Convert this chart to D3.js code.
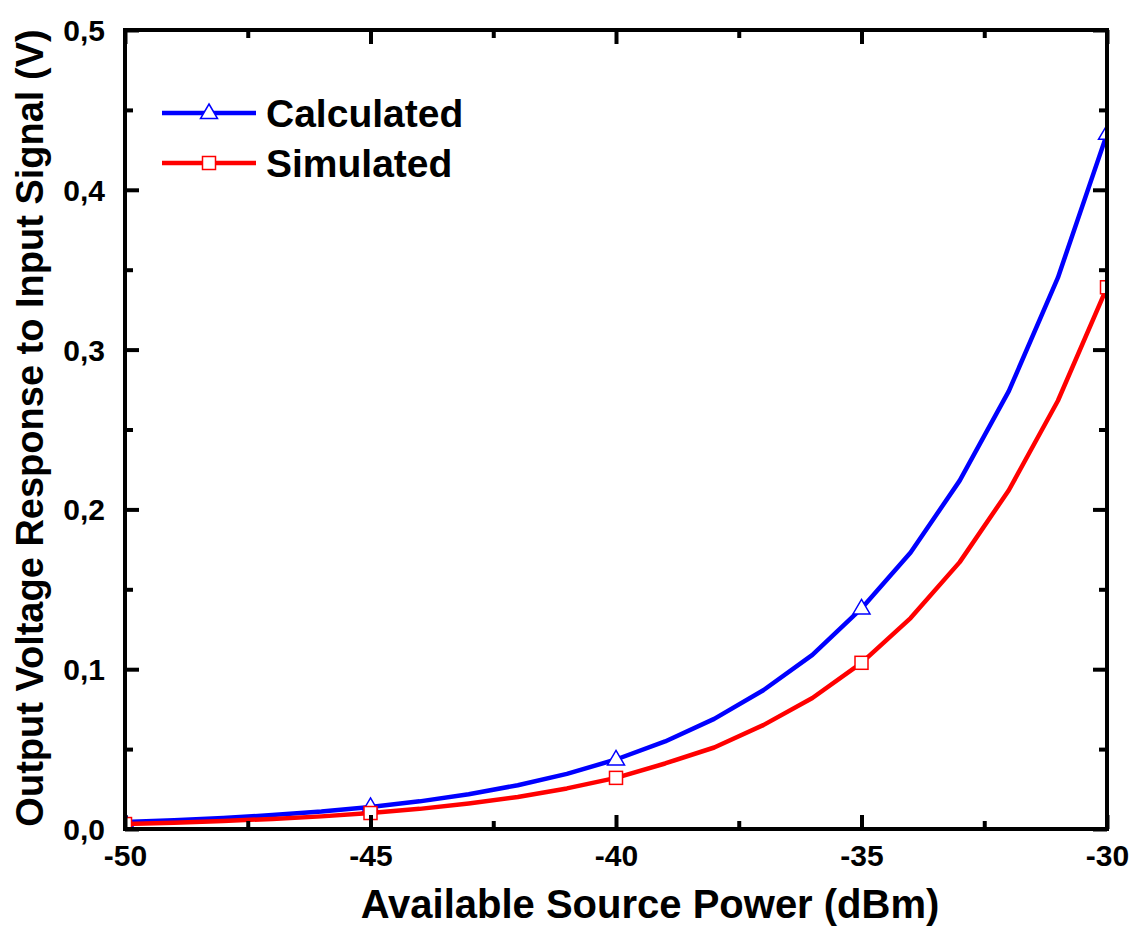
<!DOCTYPE html>
<html>
<head>
<meta charset="utf-8">
<script src="https://cdn.jsdelivr.net/npm/d3@7"></script>
<style>
  body { margin: 0; background: #fff; }
  svg { display: block; }
  text { font-family: "Liberation Sans", Arial, sans-serif; font-weight: bold; fill: #000; }
</style>
</head>
<body>
<svg width="1142" height="933"></svg>
<script>
// available source power, dBm
const power = [-50,-49,-48,-47,-46,-45,-44,-43,-42,-41,-40,-39,-38,-37,-36,-35,-34,-33,-32,-31,-30];
// output voltage (V)
const calculated = [0.0044,0.0055,0.0069,0.0087,0.0109,0.0138,0.0173,0.0218,0.0274,0.0345,0.0435,
  0.0548,0.0689,0.0868,0.109,0.138,0.173,0.218,0.274,0.345,0.435];
const simulated = [0.0031,0.0039,0.005,0.0063,0.0079,0.010,0.0126,0.016,0.020,0.0254,0.032,
  0.041,0.051,0.065,0.082,0.104,0.132,0.167,0.212,0.268,0.339];
const markerPower = [-50,-45,-40,-35,-30];
const xTicks = [-50,-45,-40,-35,-30];
const yTicks = [0,0.1,0.2,0.3,0.4,0.5];
const seriesNames = ["Calculated","Simulated"];

const svg = d3.select("svg");
const pL = 125, pR = 1107, pT = 30, pB = 829;

const x = d3.scaleLinear().domain([-50,-30]).range([pL,pR]);
const y = d3.scaleLinear().domain([0,0.5]).range([pB,pT]);

svg.append("clipPath").attr("id","plot")
  .append("rect").attr("x",pL).attr("y",pT).attr("width",pR-pL).attr("height",pB-pT);

const series = [
  {name: seriesNames[0], vals: calculated, color: "#0000ff", shape: "tri"},
  {name: seriesNames[1], vals: simulated, color: "#ff0000", shape: "sq"}
];

const line = d3.line().x(d=>x(d[0])).y(d=>y(d[1]));

function marker(g, shape, color) {
  if (shape === "tri") {
    g.append("path").attr("d","M0,-9 L8.5,5.5 L-8.5,5.5 Z")
      .attr("fill","#fff").attr("stroke",color).attr("stroke-width",1.5);
  } else {
    g.append("rect").attr("x",-6.5).attr("y",-6.5).attr("width",13).attr("height",13)
      .attr("fill","#fff").attr("stroke",color).attr("stroke-width",1.5);
  }
}

const plot = svg.append("g").attr("clip-path","url(#plot)");
series.forEach(s => {
  const pts = power.map((p,i)=>[p, s.vals[i]]);
  plot.append("path").datum(pts)
    .attr("d",line).attr("fill","none")
    .attr("stroke",s.color).attr("stroke-width",4.5).attr("stroke-linejoin","round");
  pts.filter(d=>markerPower.includes(d[0])).forEach(d => {
    marker(plot.append("g").attr("transform",`translate(${x(d[0])},${y(d[1])})`), s.shape, s.color);
  });
});

// axes: ticks pointing inward on all four sides
const fmt = d => d3.format(".1f")(d).replace(".",",");
const xMinor = d3.range(-47.5,-30,5);
const yMinor = d3.range(0.05,0.5,0.1);

svg.append("g").attr("transform",`translate(0,${pB})`)
  .call(d3.axisBottom(x).tickValues(xTicks).tickSize(-14).tickPadding(16).tickFormat(d=>String(d)));
svg.append("g").attr("transform",`translate(0,${pT})`)
  .call(d3.axisTop(x).tickValues(xTicks).tickSize(-14).tickFormat(""));
const lft = svg.append("g").attr("transform",`translate(${pL},0)`)
  .call(d3.axisLeft(y).tickValues(yTicks).tickSize(-14).tickPadding(20).tickFormat(fmt));
svg.append("g").attr("transform",`translate(${pR},0)`)
  .call(d3.axisRight(y).tickValues(yTicks).tickSize(-14).tickFormat(""));

svg.append("g").attr("transform",`translate(0,${pB})`)
  .call(d3.axisBottom(x).tickValues(xMinor).tickSize(-8).tickFormat(""));
svg.append("g").attr("transform",`translate(0,${pT})`)
  .call(d3.axisTop(x).tickValues(xMinor).tickSize(-8).tickFormat(""));
svg.append("g").attr("transform",`translate(${pL},0)`)
  .call(d3.axisLeft(y).tickValues(yMinor).tickSize(-8).tickFormat(""));
svg.append("g").attr("transform",`translate(${pR},0)`)
  .call(d3.axisRight(y).tickValues(yMinor).tickSize(-8).tickFormat(""));

svg.selectAll(".domain").remove();
svg.selectAll(".tick line").attr("stroke","#000").attr("stroke-width",4);
svg.selectAll(".tick text").attr("font-size",30).attr("font-family","Liberation Sans, Arial, sans-serif")
  .attr("font-weight","bold").attr("fill","#000");
lft.selectAll(".tick text").attr("dy","0.35em");

svg.append("rect").attr("x",pL).attr("y",pT).attr("width",pR-pL).attr("height",pB-pT)
  .attr("fill","none").attr("stroke","#000").attr("stroke-width",4);

// axis titles
svg.append("text").attr("x",650).attr("y",918)
  .attr("text-anchor","middle").attr("font-size",40).text("Available Source Power (dBm)");
svg.append("text").attr("transform",`translate(43,428) rotate(-90)`)
  .attr("text-anchor","middle").attr("font-size",38).text("Output Voltage Response to Input Signal (V)");

// legend
const leg = svg.append("g");
series.forEach((s,i) => {
  const ly = 113 + i*50;
  leg.append("line").attr("x1",162).attr("x2",256).attr("y1",ly).attr("y2",ly)
    .attr("stroke",s.color).attr("stroke-width",4.5);
  marker(leg.append("g").attr("transform",`translate(209,${ly})`), s.shape, s.color);
  leg.append("text").attr("x",266).attr("y",ly+14).attr("font-size",39).text(s.name);
});
</script>
</body>
</html>
